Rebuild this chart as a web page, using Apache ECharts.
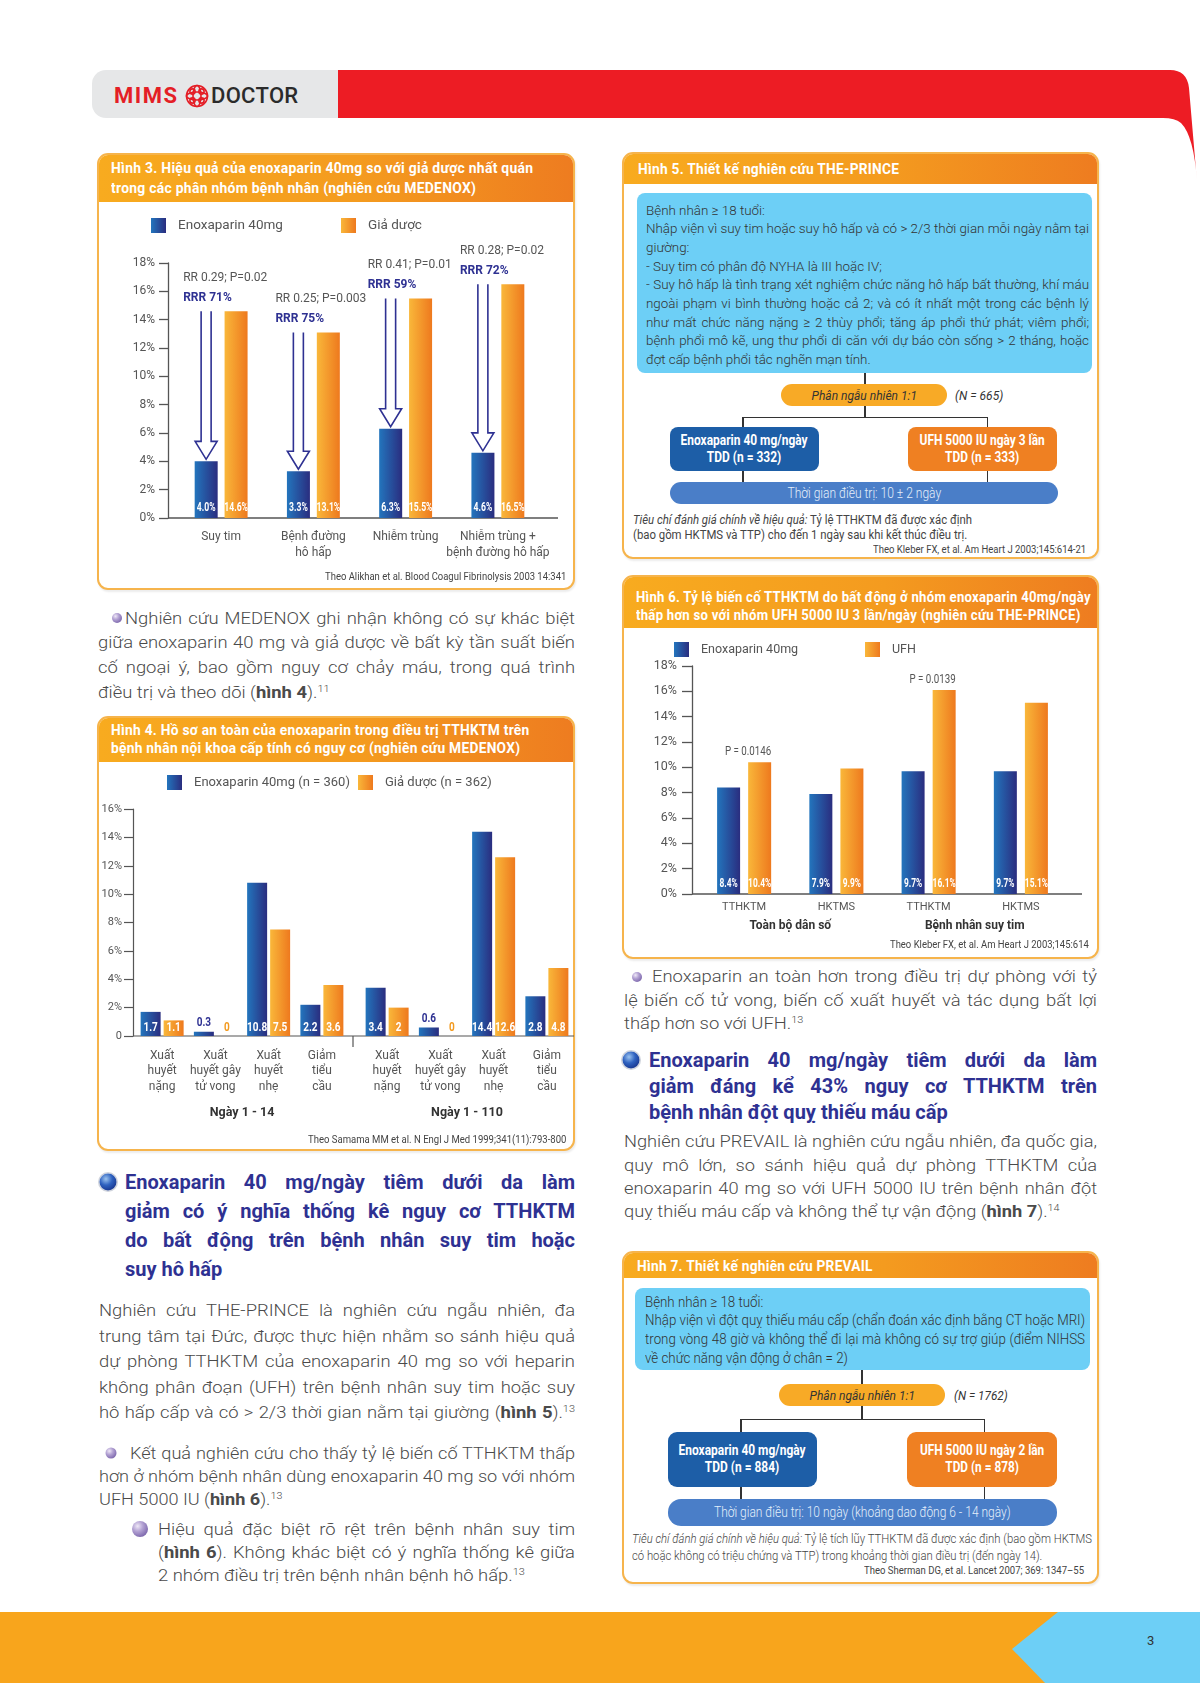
<!DOCTYPE html>
<html lang="vi"><head><meta charset="utf-8">
<script src="https://cdn.jsdelivr.net/npm/echarts/dist/echarts.min.js"></script>
<style>
html,body{margin:0;padding:0;background:#fff}
body{width:1200px;height:1683px;position:relative;overflow:hidden;font-family:Roboto,'Liberation Sans',Arial,sans-serif;}
.a{position:absolute}
.box{position:absolute;box-sizing:border-box;border:2px solid #f6b44c;border-radius:11px;background:#fff;overflow:hidden;box-shadow:1px 2px 2px rgba(0,0,0,0.08)}
.hdr{position:absolute;left:0;top:0;right:0;background:linear-gradient(90deg,#f8ab1f 0%,#f49b1f 55%,#ee7c20 100%);color:#fff;font-family:Roboto,sans-serif;font-weight:700;font-size:15.5px;box-sizing:border-box;padding-left:12px;white-space:nowrap}
.hdr span{display:inline-block;transform-origin:0 0;letter-spacing:0.3px}
.txt{position:absolute;white-space:nowrap;transform-origin:0 0}
.txt > div{text-align:justify}
.src{position:absolute;font-family:Roboto,sans-serif;color:#444;white-space:nowrap;transform-origin:100% 50%}
.bl{position:absolute;border-radius:50%;transform:translate(-50%,-50%)}
.b1{background:radial-gradient(circle at 35% 32%,#efe8f7 0%,#b3a2d3 35%,#7f6aae 75%,#66558f 100%)}
.b2{background:radial-gradient(circle at 38% 32%,#9cc4f0 0%,#2f62c0 40%,#1a3a93 75%,#142a66 100%);box-shadow:0 0 0 1.5px #cfd3dc}
.ln{position:absolute;background:#333}
.bx{position:absolute;display:flex;align-items:center;justify-content:center;text-align:center;box-sizing:border-box}
.bx span,.fs{display:inline-block;white-space:nowrap}
sup{font-size:9.5px;vertical-align:6px;line-height:0}
.chart{position:absolute}
</style>
</head>
<body>
<!-- page header -->
<svg class="a" style="left:0;top:0" width="1200" height="200">
  <path d="M106,70 H338 V118 H106 A14,14 0 0 1 92,104 V84 A14,14 0 0 1 106,70 Z" fill="#e6e7e8"/>
  <path d="M338,70 H1170 Q1187,70 1189,88 L1197,182 Q1194,136 1181,123 Q1175,118 1163,118 H338 Z" fill="#ed1c24"/>
  <g transform="translate(197,96)" fill="none" stroke="#e41e26" stroke-width="1.6">
    <circle r="10.5"/>
    <ellipse rx="4" ry="10.5"/>
    <ellipse rx="10.5" ry="4"/>
    <circle cx="-4.5" cy="-4.5" r="2.6"/><circle cx="4.5" cy="-4.5" r="2.6"/>
    <circle cx="-4.5" cy="4.5" r="2.6"/><circle cx="4.5" cy="4.5" r="2.6"/>
  </g>
</svg>
<div class="a" style="left:114px;top:82px;font-size:22px;line-height:28px;font-weight:700;color:#e41e26;letter-spacing:1.5px">MIMS</div>
<div class="a" style="left:211px;top:82px;font-size:22px;line-height:28px;font-weight:500;color:#2b2b2b;letter-spacing:0.3px">DOCTOR</div>

<!-- boxes -->
<div class="box" style="left:97px;top:153px;width:478px;height:437px"><div class="hdr" style="height:47px;line-height:20px;padding-top:3px"><span data-w="422">Hình 3. Hiệu quả của enoxaparin 40mg so với giả dược nhất quán<br>trong các phân nhóm bệnh nhân (nghiên cứu MEDENOX)</span></div></div>
<div class="box" style="left:97px;top:716px;width:478px;height:435px"><div class="hdr" style="height:44px;line-height:18px;padding-top:3px"><span data-w="419">Hình 4. Hồ sơ an toàn của enoxaparin trong điều trị TTHKTM trên<br>bệnh nhân nội khoa cấp tính có nguy cơ (nghiên cứu MEDENOX)</span></div></div>
<div class="box" style="left:622px;top:152px;width:477px;height:407px"><div class="hdr" style="height:30px;line-height:30px;padding-left:14px"><span data-w="261">Hình 5. Thiết kế nghiên cứu THE-PRINCE</span></div></div>
<div class="box" style="left:622px;top:575px;width:477px;height:384px"><div class="hdr" style="height:51px;line-height:18px;padding-top:11px"><span data-w="455">Hình 6. Tỷ lệ biến cố TTHKTM do bất động ở nhóm enoxaparin 40mg/ngày<br>thấp hơn so với nhóm UFH 5000 IU 3 lần/ngày (nghiên cứu THE-PRINCE)</span></div></div>
<div class="box" style="left:622px;top:1251px;width:477px;height:333px"><div class="hdr" style="height:25px;line-height:27px;padding-left:13px"><span data-w="236">Hình 7. Thiết kế nghiên cứu PREVAIL</span></div></div>

<!-- charts -->
<div id="c3" class="chart" style="left:97px;top:202px;width:478px;height:388px"></div>
<div id="c4" class="chart" style="left:97px;top:762px;width:478px;height:389px"></div>
<div id="c6" class="chart" style="left:622px;top:628px;width:477px;height:331px"></div>

<!-- Fig 5 flowchart -->
<div class="a" style="left:637px;top:193px;width:455px;height:180px;background:#6dcff6;border-radius:8px"></div>
<div class="ln" style="left:864px;top:373px;width:1.5px;height:11px"></div>
<div class="bx" style="left:781px;top:384px;width:166px;height:22px;border-radius:11px;background:#f8aa26;font-style:italic;font-size:13.5px;color:#333"><span data-w="105">Phân ngẫu nhiên 1:1</span></div>
<div class="a" style="left:955px;top:386px;font-style:italic;font-size:13.5px;line-height:18px;color:#333"><span class="fs" data-w="48" style="transform-origin:0 50%">(N = 665)</span></div>
<div class="ln" style="left:864px;top:406px;width:1.5px;height:11px"></div>
<div class="ln" style="left:742px;top:416.5px;width:246px;height:1.5px"></div>
<div class="ln" style="left:742px;top:417px;width:1.5px;height:10px"></div>
<div class="ln" style="left:986.5px;top:417px;width:1.5px;height:10px"></div>
<div class="bx" style="left:670px;top:427px;width:149px;height:44px;border-radius:8px;background:#1d5ea7;color:#fff;font-weight:700;font-size:14.5px;line-height:17px"><span data-w="127">Enoxaparin 40 mg/ngày<br>TDD (n = 332)</span></div>
<div class="bx" style="left:908px;top:427px;width:149px;height:44px;border-radius:8px;background:#ef8022;color:#fff;font-weight:700;font-size:14.5px;line-height:17px"><span data-w="125">UFH 5000 IU ngày 3 lần<br>TDD (n = 333)</span></div>
<div class="ln" style="left:742px;top:471px;width:1.5px;height:11px"></div>
<div class="ln" style="left:986.5px;top:471px;width:1.5px;height:11px"></div>
<div class="bx" style="left:670px;top:482px;width:388px;height:22px;border-radius:11px;background:#4a7ec8;color:#e4eefa;font-size:14px;font-weight:300"><span data-w="154">Thời gian điều trị: 10 ± 2 ngày</span></div>

<!-- Fig 7 flowchart -->
<div class="a" style="left:635px;top:1288px;width:455px;height:82px;background:#6dcff6;border-radius:8px"></div>
<div class="ln" style="left:861px;top:1370px;width:1.5px;height:14px"></div>
<div class="bx" style="left:779px;top:1384px;width:166px;height:22px;border-radius:11px;background:#f8aa26;font-style:italic;font-size:13.5px;color:#333"><span data-w="105">Phân ngẫu nhiên 1:1</span></div>
<div class="a" style="left:954px;top:1386px;font-style:italic;font-size:13.5px;line-height:18px;color:#333"><span class="fs" data-w="54" style="transform-origin:0 50%">(N = 1762)</span></div>
<div class="ln" style="left:861px;top:1406px;width:1.5px;height:13px"></div>
<div class="ln" style="left:740px;top:1418.5px;width:245px;height:1.5px"></div>
<div class="ln" style="left:740px;top:1419px;width:1.5px;height:13px"></div>
<div class="ln" style="left:983.5px;top:1419px;width:1.5px;height:13px"></div>
<div class="bx" style="left:668px;top:1432px;width:149px;height:55px;border-radius:9px;background:#1d5ea7;color:#fff;font-weight:700;font-size:14.5px;line-height:16.5px"><span data-w="127">Enoxaparin 40 mg/ngày<br>TDD (n = 884)</span></div>
<div class="bx" style="left:907px;top:1432px;width:150px;height:55px;border-radius:9px;background:#ef8022;color:#fff;font-weight:700;font-size:14.5px;line-height:16.5px"><span data-w="124">UFH 5000 IU ngày 2 lần<br>TDD (n = 878)</span></div>
<div class="ln" style="left:740px;top:1487px;width:1.5px;height:12px"></div>
<div class="ln" style="left:983.5px;top:1487px;width:1.5px;height:12px"></div>
<div class="bx" style="left:668px;top:1499px;width:389px;height:27px;border-radius:13px;background:#4a7ec8;color:#e4eefa;font-size:14.5px;font-weight:300"><span data-w="297">Thời gian điều trị: 10 ngày (khoảng dao động 6 - 14 ngày)</span></div>

<!-- footer -->
<svg class="a" style="left:0;top:1600px" width="1200" height="83">
  <rect x="0" y="12" width="1200" height="71" fill="#f8a51c"/>
  <polygon points="1058,12 1200,12 1200,83 1045,83 1012,49" fill="#6dcff6"/>
</svg>
<div class="a" style="left:1147px;top:1632px;font-size:13px;line-height:18px;color:#333">3</div>

<script>
// ---------------- DATA ----------------
const fig3Categories = ['Suy tim', 'Bệnh đường\nhô hấp', 'Nhiễm trùng', 'Nhiễm trùng +\nbệnh đường hô hấp'];
const fig3Enox = [4.0, 3.3, 6.3, 4.6];
const fig3Placebo = [14.6, 13.1, 15.5, 16.5];
const fig3RR = ['RR 0.29; P=0.02', 'RR 0.25; P=0.003', 'RR 0.41; P=0.01', 'RR 0.28; P=0.02'];
const fig3RRR = ['RRR 71%', 'RRR 75%', 'RRR 59%', 'RRR 72%'];
const fig3Series = ['Enoxaparin 40mg', 'Giả dược'];

const fig4Categories = ['Xuất\nhuyết\nnặng', 'Xuất\nhuyết gây\ntử vong', 'Xuất\nhuyết\nnhẹ', 'Giảm\ntiểu\ncầu'];
const fig4Periods = ['Ngày 1 - 14', 'Ngày 1 - 110'];
const fig4Enox14 = [1.7, 0.3, 10.8, 2.2];
const fig4Placebo14 = [1.1, 0, 7.5, 3.6];
const fig4Enox110 = [3.4, 0.6, 14.4, 2.8];
const fig4Placebo110 = [2, 0, 12.6, 4.8];
const fig4Series = ['Enoxaparin 40mg (n = 360)', 'Giả dược (n = 362)'];

const fig6Categories = ['TTHKTM', 'HKTMS', 'TTHKTM', 'HKTMS'];
const fig6Groups = ['Toàn bộ dân số', 'Bệnh nhân suy tim'];
const fig6Enox = [8.4, 7.9, 9.7, 9.7];
const fig6UFH = [10.4, 9.9, 16.1, 15.1];
const fig6P = ['P = 0.0146', '', 'P = 0.0139', ''];
const fig6Series = ['Enoxaparin 40mg', 'UFH'];

// ---------------- STYLE ----------------
const BODYF = "Roboto,'Liberation Sans',Arial,sans-serif";
const NAVY = '#2e3192', AX = '#555';
function grad(a, b) { return new echarts.graphic.LinearGradient(0, 0, 1, 0, [{offset: 0, color: a}, {offset: 1, color: b}]); }
const BLUE = () => grad('#2375bd', '#2a2d7f');
const ORANGE = () => grad('#f9b73a', '#ee791e');
const legendBase = {itemWidth: 15, itemHeight: 15, icon: 'rect', selectedMode: false};

// value labels drawn with a horizontally condensed font (custom series)
function valueLabels(o) {
  return {type: 'custom', xAxisIndex: o.xi || 0, yAxisIndex: o.yi || 0, z: 10, silent: true,
    data: o.values.map((v, i) => [i, v]),
    renderItem: function (params, api) {
      const i = api.value(0), v = api.value(1);
      const top = api.coord([i, v]), base = api.coord([i, 0]);
      const inside = v >= (o.threshold || 0);
      return {type: 'text', x: top[0] + o.dx, y: inside ? base[1] - o.bottom : top[1] - 2, scaleX: o.sx,
        style: {text: o.fmt(v), fill: inside ? '#fff' : o.small, font: o.font, align: 'center', verticalAlign: 'bottom'}};
    }};
}

// ---------------- FIGURE 3 ----------------
const c3 = echarts.init(document.getElementById('c3'));
const fmtPct = v => v.toFixed(1) + '%';
c3.setOption({
  animation: false,
  legend: [
    Object.assign({left: 49, top: 11, data: [fig3Series[0]], textStyle: {fontFamily: BODYF, fontSize: 13.5, color: '#555', padding: [0, 0, 0, 7]}}, legendBase),
    Object.assign({left: 239, top: 11, data: [fig3Series[1]], textStyle: {fontFamily: BODYF, fontSize: 13.5, color: '#555', padding: [0, 0, 0, 7]}}, legendBase)
  ],
  grid: {left: 78, top: 61, width: 369, height: 255, containLabel: false, outerBoundsMode: 'none'},
  xAxis: {type: 'category', data: fig3Categories, axisLine: {show: false}, axisTick: {show: false},
    axisLabel: {interval: 0, margin: 11, fontSize: 12, lineHeight: 16, color: AX, fontFamily: BODYF}},
  yAxis: {type: 'value', min: 0, max: 18, interval: 2, offset: 7, splitLine: {show: false},
    axisLine: {show: true, lineStyle: {color: AX, width: 1.3}}, axisTick: {show: true, length: 9, lineStyle: {color: AX, width: 1.3}},
    axisLabel: {margin: 13, fontSize: 12, color: AX, fontFamily: BODYF, formatter: '{value}%'}},
  graphic: [{type: 'line', shape: {x1: 71, y1: 316, x2: 461, y2: 316}, style: {stroke: AX, lineWidth: 1.3}}],
  series: [
    {name: fig3Series[0], type: 'bar', data: fig3Enox, barWidth: 23, barGap: '30%', itemStyle: {color: BLUE()}},
    {name: fig3Series[1], type: 'bar', data: fig3Placebo, barWidth: 23, barGap: '30%', itemStyle: {color: ORANGE()}},
    valueLabels({values: fig3Enox, dx: -15, bottom: 4, sx: 0.72, font: 'bold 12px Roboto', fmt: fmtPct}),
    valueLabels({values: fig3Placebo, dx: 15, bottom: 4, sx: 0.72, font: 'bold 12px Roboto', fmt: fmtPct}),
    {type: 'custom', z: 5, silent: true, data: fig3Enox.map((v, i) => [i, v, fig3Placebo[i]]),
      renderItem: function (params, api) {
        const i = api.value(0);
        const base = api.coord([i, api.value(1)]);
        const top = api.coord([i, api.value(2)])[1];
        const cx = base[0] - 15, tip = base[1] - 2, hh = 18, hw = 11, sw = 5;
        const pts = [[cx - sw, top], [cx - sw, tip - hh], [cx - hw, tip - hh], [cx, tip], [cx + hw, tip - hh], [cx + sw, tip - hh], [cx + sw, top]];
        return {type: 'group', children: [
          {type: 'polygon', shape: {points: pts}, style: {fill: '#fff', stroke: null}},
          {type: 'polyline', shape: {points: pts}, style: {stroke: NAVY, lineWidth: 1.6, fill: null}},
          {type: 'text', x: cx - 23, y: top - 33, style: {text: fig3RR[i], fill: '#555', font: '12px ' + BODYF, verticalAlign: 'middle'}},
          {type: 'text', x: cx - 23, y: top - 13, style: {text: fig3RRR[i], fill: NAVY, font: 'bold 12px ' + BODYF, verticalAlign: 'middle'}}
        ]};
      }}
  ]
});

// ---------------- FIGURE 4 ----------------
const c4 = echarts.init(document.getElementById('c4'));
const xAxis4 = (gi) => ({type: 'category', gridIndex: gi, data: fig4Categories, axisLine: {show: false}, axisTick: {show: false},
  axisLabel: {interval: 0, margin: 12, fontSize: 12, lineHeight: 15.5, color: AX, fontFamily: BODYF},
  name: fig4Periods[gi], nameLocation: 'middle', nameGap: 70, nameTextStyle: {fontWeight: 'bold', fontSize: 12.5, color: '#333', fontFamily: BODYF}});
const yAxis4 = (gi) => ({type: 'value', gridIndex: gi, show: gi === 0, min: 0, max: 16, interval: 2, offset: 2.5, splitLine: {show: false},
  axisLine: {show: true, lineStyle: {color: AX, width: 1.2}}, axisTick: {show: true, length: 9, lineStyle: {color: AX, width: 1.2}},
  axisLabel: {margin: 11, fontSize: 11, color: AX, fontFamily: BODYF, formatter: v => v === 0 ? '0' : v + '%'}});
const fmt4 = v => String(v);
const lab4 = (values, dx, small, xi) => valueLabels({values, dx, xi, yi: xi, bottom: 1.5, sx: 0.8, threshold: 1, small, font: 'bold 12.5px Roboto', fmt: fmt4});
c4.setOption({
  animation: false,
  legend: [
    Object.assign({left: 65, top: 8, data: [fig4Series[0]], textStyle: {fontFamily: BODYF, fontSize: 13, color: '#555', padding: [0, 0, 0, 7]}}, legendBase),
    Object.assign({left: 256, top: 8, data: [fig4Series[1]], textStyle: {fontFamily: BODYF, fontSize: 13, color: '#555', padding: [0, 0, 0, 7]}}, legendBase)
  ],
  grid: [
    {left: 38.5, top: 47, width: 213, height: 227, containLabel: false, outerBoundsMode: 'none'},
    {left: 263.5, top: 47, width: 213, height: 227, containLabel: false, outerBoundsMode: 'none'}
  ],
  xAxis: [xAxis4(0), xAxis4(1)],
  yAxis: [yAxis4(0), yAxis4(1)],
  graphic: [
    {type: 'line', shape: {x1: 36, y1: 274, x2: 477, y2: 274}, style: {stroke: AX, lineWidth: 1.2}},
    {type: 'line', shape: {x1: 256, y1: 274, x2: 256, y2: 285}, style: {stroke: AX, lineWidth: 1.2}}
  ],
  series: [
    {name: fig4Series[0], type: 'bar', xAxisIndex: 0, yAxisIndex: 0, data: fig4Enox14, barWidth: 20, barGap: '15%', itemStyle: {color: BLUE()}},
    {name: fig4Series[1], type: 'bar', xAxisIndex: 0, yAxisIndex: 0, data: fig4Placebo14, barWidth: 20, barGap: '15%', itemStyle: {color: ORANGE()}},
    {name: fig4Series[0], type: 'bar', xAxisIndex: 1, yAxisIndex: 1, data: fig4Enox110, barWidth: 20, barGap: '15%', itemStyle: {color: BLUE()}},
    {name: fig4Series[1], type: 'bar', xAxisIndex: 1, yAxisIndex: 1, data: fig4Placebo110, barWidth: 20, barGap: '15%', itemStyle: {color: ORANGE()}},
    lab4(fig4Enox14, -11.5, NAVY, 0), lab4(fig4Placebo14, 11.5, '#f39a1f', 0),
    lab4(fig4Enox110, -11.5, NAVY, 1), lab4(fig4Placebo110, 11.5, '#f39a1f', 1)
  ]
});

// ---------------- FIGURE 6 ----------------
const c6 = echarts.init(document.getElementById('c6'));
c6.setOption({
  animation: false,
  legend: [
    Object.assign({left: 47, top: 9, data: [fig6Series[0]], textStyle: {fontFamily: BODYF, fontSize: 12.5, color: '#555', padding: [0, 0, 0, 7]}}, legendBase),
    Object.assign({left: 238, top: 9, data: [fig6Series[1]], textStyle: {fontFamily: BODYF, fontSize: 12.5, color: '#555', padding: [0, 0, 0, 7]}}, legendBase)
  ],
  grid: {left: 76, top: 38, width: 369, height: 228, containLabel: false, outerBoundsMode: 'none'},
  xAxis: [
    {type: 'category', data: fig6Categories, axisLine: {show: false}, axisTick: {show: false},
      axisLabel: {interval: 0, margin: 8, fontSize: 11, color: AX, fontFamily: BODYF}},
    {type: 'category', data: fig6Groups, position: 'bottom', axisLine: {show: false}, axisTick: {show: false},
      axisLabel: {interval: 0, margin: 26, fontSize: 12, fontWeight: 'bold', color: '#333', fontFamily: BODYF}}
  ],
  yAxis: {type: 'value', min: 0, max: 18, interval: 2, offset: 6, splitLine: {show: false},
    axisLine: {show: true, lineStyle: {color: AX, width: 1.3}}, axisTick: {show: true, length: 10, lineStyle: {color: AX, width: 1.3}},
    axisLabel: {margin: 15, fontSize: 12.5, color: AX, fontFamily: BODYF, formatter: '{value}%'}},
  graphic: [{type: 'line', shape: {x1: 70, y1: 266, x2: 460, y2: 266}, style: {stroke: AX, lineWidth: 1.3}}],
  series: [
    {name: fig6Series[0], type: 'bar', data: fig6Enox, barWidth: 23, barGap: '35%', itemStyle: {color: BLUE()}},
    {name: fig6Series[1], type: 'bar', data: fig6UFH, barWidth: 23, barGap: '35%', itemStyle: {color: ORANGE()}},
    valueLabels({values: fig6Enox, dx: -15.5, bottom: 4, sx: 0.7, font: 'bold 12px Roboto', fmt: fmtPct}),
    valueLabels({values: fig6UFH, dx: 15.5, bottom: 4, sx: 0.7, font: 'bold 12px Roboto', fmt: fmtPct}),
    {type: 'custom', z: 10, silent: true, data: fig6UFH.map((v, i) => [i, v]),
      renderItem: function (params, api) {
        const i = api.value(0), p = api.coord([i, api.value(1)]);
        if (!fig6P[i]) return null;
        return {type: 'text', x: p[0] + 4, y: p[1] - 4, scaleX: 0.75,
          style: {text: fig6P[i], fill: '#555', font: '13px Roboto', align: 'center', verticalAlign: 'bottom'}};
      }}
  ]
});

// ---------------- TEXT ----------------
function T(o) {
  const d = document.createElement('div'); d.className = 'txt';
  const s = d.style;
  s.left = o.x + 'px'; s.top = (o.c - o.lh / 2) + 'px'; s.lineHeight = o.lh + 'px';
  s.fontSize = o.size + 'px'; s.color = o.color || '#4d4d4d'; s.fontWeight = o.weight || 300; s.fontFamily = o.family || BODYF;
  if (o.ls) s.letterSpacing = o.ls + 'px';
  const rows = [];
  o.lines.forEach((t, i) => {
    const l = document.createElement('div');
    const sp = document.createElement('span'); sp.innerHTML = t; l.appendChild(sp);
    d.appendChild(l); rows.push([l, sp]);
  });
  document.body.appendChild(d);
  const isLeft = i => (o.noj || []).includes(i) || (o.lastLeft && i === o.lines.length - 1);
  let sx = 1;
  if (o.fit) {
    let m = 0;
    rows.forEach(([l, sp], i) => { if (!isLeft(i)) m = Math.max(m, sp.getBoundingClientRect().width + (i === 0 && o.indent ? o.indent : 0)); });
    sx = o.w / m;
    if (o.maxSx) sx = Math.min(sx, o.maxSx);
  }
  s.width = (o.w / sx) + 'px';
  s.whiteSpace = o.fit ? 'nowrap' : 'normal';
  if (sx !== 1) s.transform = 'scaleX(' + sx + ')';
  rows.forEach(([l, sp], i) => {
    l.style.textAlignLast = isLeft(i) ? 'left' : 'justify';
    if (i === 0 && o.indent) l.style.paddingLeft = (o.indent / sx) + 'px';
    if (o.fit) l.style.whiteSpace = 'normal';
  });
}
function S(xr, c, size, text, w) {
  const d = document.createElement('div'); d.className = 'src';
  d.style.right = (1200 - xr) + 'px'; d.style.top = (c - size * 0.65) + 'px'; d.style.lineHeight = (size * 1.3) + 'px';
  d.style.fontSize = size + 'px'; d.innerHTML = text;
  document.body.appendChild(d);
  d.style.transform = 'scaleX(' + (w / d.offsetWidth) + ')';
}
function B(cls, x, y, dmt) {
  const d = document.createElement('div'); d.className = 'bl ' + cls;
  d.style.left = x + 'px'; d.style.top = y + 'px'; d.style.width = dmt + 'px'; d.style.height = dmt + 'px';
  document.body.appendChild(d);
}
// fit single-line / box texts to their measured widths
document.querySelectorAll('[data-w]').forEach(el => {
  el.style.transform = 'scaleX(' + (+el.dataset.w / el.offsetWidth) + ')';
});
// sources
S(566, 577, 11, 'Theo Alikhan et al. Blood Coagul Fibrinolysis 2003 14:341', 241);
S(566, 1140, 11, 'Theo Samama MM et al. N Engl J Med 1999;341(11):793-800', 258);
S(1086, 550, 11, 'Theo Kleber FX, et al. Am Heart J 2003;145:614-21', 213);
S(1089, 945, 11, 'Theo Kleber FX, et al. Am Heart J 2003;145:614', 199);
S(1084, 1571, 11, 'Theo Sherman DG, et al. Lancet 2007; 369: 1347–55', 220);

// Fig 5 inner text
T({x: 646, c: 210, w: 443, lh: 18.65, size: 13.5, color: '#333', weight: 300, fit: true, noj: [0, 2, 3, 8], lines: [
  'Bệnh nhân ≥ 18 tuổi:',
  'Nhập viện vì suy tim hoặc suy hô hấp và có &gt; 2/3 thời gian mỗi ngày nằm tại',
  'giường:',
  '- Suy tim có phân độ NYHA là III hoặc IV;',
  '- Suy hô hấp là tình trạng xét nghiệm chức năng hô hấp bất thường, khí máu',
  'ngoài phạm vi bình thường hoặc cả 2; và có ít nhất một trong các bệnh lý',
  'như mất chức năng nặng ≥ 2 thùy phổi; tăng áp phổi thứ phát; viêm phổi;',
  'bệnh phổi mô kẽ, ung thư phổi di căn với dự báo còn sống &gt; 2 tháng, hoặc',
  'đợt cấp bệnh phổi tắc nghẽn mạn tính.'
]});
T({x: 633, c: 520, w: 339, lh: 15, size: 12, color: '#444', weight: 400, fit: true, noj: [1], lines: [
  '<i>Tiêu chí đánh giá chính về hiệu quả:</i> Tỷ lệ TTHKTM đã được xác định',
  '(bao gồm HKTMS và TTP) cho đến 1 ngày sau khi kết thúc điều trị.'
]});
// Fig 7 inner text
T({x: 645, c: 1302, w: 440, lh: 18.7, size: 15, color: '#333', weight: 300, fit: true, noj: [0, 3], lines: [
  'Bệnh nhân ≥ 18 tuổi:',
  'Nhập viện vì đột quỵ thiếu máu cấp (chẩn đoán xác định bằng CT hoặc MRI)',
  'trong vòng 48 giờ và không thể đi lại mà không có sự trợ giúp (điểm NIHSS',
  'về chức năng vận động ở chân = 2)'
]});
T({x: 632, c: 1538, w: 460, lh: 17, size: 12.5, color: '#444', weight: 300, fit: true, noj: [1], lines: [
  '<i>Tiêu chí đánh giá chính về hiệu quả:</i> Tỷ lệ tích lũy TTHKTM đã được xác định (bao gồm HKTMS',
  'có hoặc không có triệu chứng và TTP) trong khoảng thời gian điều trị (đến ngày 14).'
]});

// body paragraphs: glyphs widened to fill the column like the original typeface
const BODY = {size: 16, color: '#4a4a4a', fit: true, maxSx: 1.15};
// Left column
B('b1', 116.5, 618, 10);
T(Object.assign({x: 98, c: 619, w: 477, lh: 24.7, indent: 27, lastLeft: true, lines: [
  'Nghiên cứu MEDENOX ghi nhận không có sự khác biệt',
  'giữa enoxaparin 40 mg và giả dược về bất kỳ tần suất biến',
  'cố ngoại ý, bao gồm nguy cơ chảy máu, trong quá trình',
  'điều trị và theo dõi (<b style="font-weight:700">hình 4</b>).<sup>11</sup>'
]}, BODY));
B('b2', 108, 1182, 17);
T({x: 125, c: 1182, w: 450, lh: 29, size: 20, weight: 700, color: NAVY, lastLeft: true, lines: [
  'Enoxaparin 40 mg/ngày tiêm dưới da làm',
  'giảm có ý nghĩa thống kê nguy cơ TTHKTM',
  'do bất động trên bệnh nhân suy tim hoặc',
  'suy hô hấp'
]});
T(Object.assign({x: 99, c: 1311, w: 476, lh: 25.5, lines: [
  'Nghiên cứu THE-PRINCE là nghiên cứu ngẫu nhiên, đa',
  'trung tâm tại Đức, được thực hiện nhằm so sánh hiệu quả',
  'dự phòng TTHKTM của enoxaparin 40 mg so với heparin',
  'không phân đoạn (UFH) trên bệnh nhân suy tim hoặc suy',
  'hô hấp cấp và có &gt; 2/3 thời gian nằm tại giường (<b style="font-weight:700">hình 5</b>).<sup>13</sup>'
]}, BODY));
B('b1', 111, 1453, 11);
T(Object.assign({x: 99, c: 1453, w: 476, lh: 23, indent: 31, lastLeft: true, lines: [
  'Kết quả nghiên cứu cho thấy tỷ lệ biến cố TTHKTM thấp',
  'hơn ở nhóm bệnh nhân dùng enoxaparin 40 mg so với nhóm',
  'UFH 5000 IU (<b style="font-weight:700">hình 6</b>).<sup>13</sup>'
]}, BODY));
B('b1', 140, 1529, 16);
T(Object.assign({x: 158, c: 1529, w: 417, lh: 23, lastLeft: true, lines: [
  'Hiệu quả đặc biệt rõ rệt trên bệnh nhân suy tim',
  '(<b style="font-weight:700">hình 6</b>). Không khác biệt có ý nghĩa thống kê giữa',
  '2 nhóm điều trị trên bệnh nhân bệnh hô hấp.<sup>13</sup>'
]}, BODY));

// Right column
B('b1', 637, 977, 10);
T(Object.assign({x: 624, c: 977, w: 473, lh: 23.3, indent: 28, lastLeft: true, lines: [
  'Enoxaparin an toàn hơn trong điều trị dự phòng với tỷ',
  'lệ biến cố tử vong, biến cố xuất huyết và tác dụng bất lợi',
  'thấp hơn so với UFH.<sup>13</sup>'
]}, BODY));
B('b2', 631, 1060, 17);
T({x: 649, c: 1060, w: 448, lh: 26, size: 20, weight: 700, color: NAVY, lastLeft: true, lines: [
  'Enoxaparin 40 mg/ngày tiêm dưới da làm',
  'giảm đáng kể 43% nguy cơ TTHKTM trên',
  'bệnh nhân đột quỵ thiếu máu cấp'
]});
T(Object.assign({x: 624, c: 1142, w: 473, lh: 23.3, lastLeft: true, lines: [
  'Nghiên cứu PREVAIL là nghiên cứu ngẫu nhiên, đa quốc gia,',
  'quy mô lớn, so sánh hiệu quả dự phòng TTHKTM của',
  'enoxaparin 40 mg so với UFH 5000 IU trên bệnh nhân đột',
  'quỵ thiếu máu cấp và không thể tự vận động (<b style="font-weight:700">hình 7</b>).<sup>14</sup>'
]}, BODY));
</script>
</body></html>
